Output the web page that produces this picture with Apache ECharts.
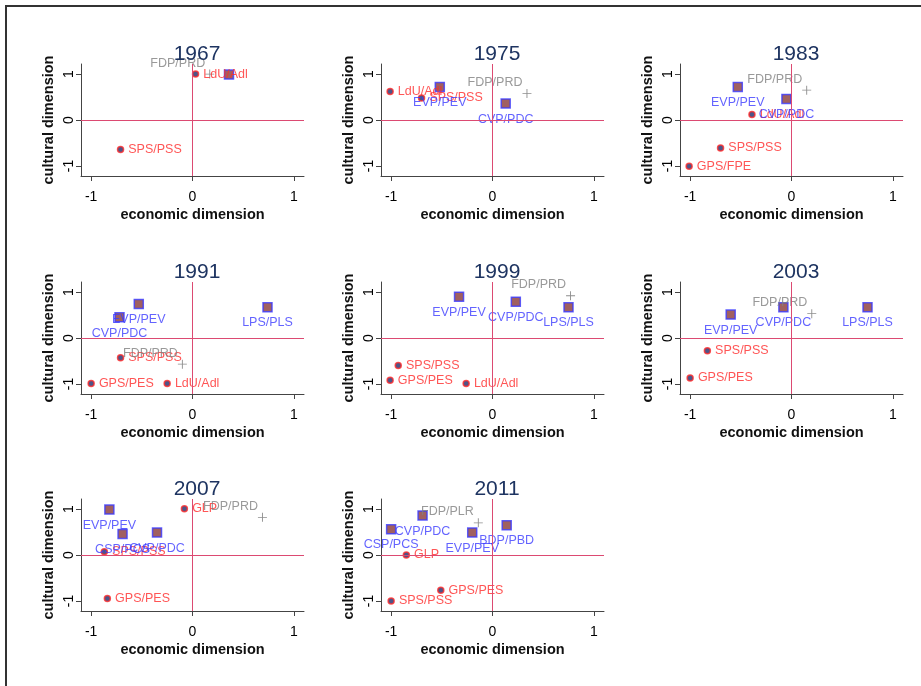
<!DOCTYPE html>
<html>
<head>
<meta charset="utf-8">
<script src="https://cdn.jsdelivr.net/npm/echarts@6/dist/echarts.min.js"></script>
<style>
  html, body { margin: 0; padding: 0; background: #fff; overflow: hidden; }
  #frame { position: absolute; left: 5px; top: 5px; right: -20px; bottom: -20px; border: 2px solid #333; }
  #chart { position: absolute; left: 0; top: 0; width: 921px; height: 686px; }
</style>
</head>
<body>
<div id="frame"></div>
<div id="chart"></div>
<script>
  // panel titles
  var years = ['1967', '1975', '1983', '1991', '1999', '2003', '2007', '2011'];
  var tickValues = [-1, 0, 1];

  // rows: [party, marker kind, economic dimension, cultural dimension]
  var d1967 = [
    ['', 'square', 0.36, 0.99],
    ['FDP/PRD', 'plus', 0.17, 1.0],
    ['LdU/Adl', 'dot', 0.03, 1.0],
    ['SPS/PSS', 'dot', -0.71, -0.64]
  ];
  var d1975 = [
    ['EVP/PEV', 'square', -0.52, 0.72],
    ['CVP/PDC', 'square', 0.13, 0.36],
    ['FDP/PRD', 'plus', 0.34, 0.58],
    ['LdU/Adl', 'dot', -1.01, 0.62],
    ['SPS/PSS', 'dot', -0.70, 0.48]
  ];
  var d1983 = [
    ['EVP/PEV', 'square', -0.53, 0.72],
    ['CVP/PDC', 'square', -0.05, 0.46],
    ['FDP/PRD', 'plus', 0.15, 0.65],
    ['LdU/Adl', 'dot', -0.39, 0.12],
    ['SPS/PSS', 'dot', -0.70, -0.61],
    ['GPS/FPE', 'dot', -1.01, -1.01]
  ];
  var d1991 = [
    ['EVP/PEV', 'square', -0.53, 0.74],
    ['CVP/PDC', 'square', -0.72, 0.45],
    ['LPS/PLS', 'square', 0.74, 0.67],
    ['FDP/PRD', 'plus', -0.10, -0.57],
    ['SPS/PSS', 'dot', -0.71, -0.43],
    ['GPS/PES', 'dot', -1.0, -0.99],
    ['LdU/Adl', 'dot', -0.25, -0.99]
  ];
  var d1999 = [
    ['EVP/PEV', 'square', -0.33, 0.90],
    ['CVP/PDC', 'square', 0.23, 0.79],
    ['LPS/PLS', 'square', 0.75, 0.67],
    ['FDP/PRD', 'plus', 0.77, 0.92],
    ['SPS/PSS', 'dot', -0.93, -0.60],
    ['GPS/PES', 'dot', -1.01, -0.92],
    ['LdU/Adl', 'dot', -0.26, -0.99]
  ];
  var d2003 = [
    ['EVP/PEV', 'square', -0.60, 0.51],
    ['CVP/PDC', 'square', -0.08, 0.67],
    ['LPS/PLS', 'square', 0.75, 0.67],
    ['FDP/PRD', 'plus', 0.20, 0.53],
    ['SPS/PSS', 'dot', -0.83, -0.28],
    ['GPS/PES', 'dot', -1.0, -0.87]
  ];
  var d2007 = [
    ['EVP/PEV', 'square', -0.82, 0.99],
    ['CSP/PCS', 'square', -0.69, 0.46],
    ['CVP/PDC', 'square', -0.35, 0.49],
    ['FDP/PRD', 'plus', 0.69, 0.82],
    ['GLP', 'dot', -0.08, 1.01],
    ['SPS/PSS', 'dot', -0.87, 0.07],
    ['GPS/PES', 'dot', -0.84, -0.95]
  ];
  var d2011 = [
    ['CVP/PDC', 'square', -0.69, 0.86],
    ['CSP/PCS', 'square', -1.0, 0.56],
    ['EVP/PEV', 'square', -0.20, 0.49],
    ['BDP/PBD', 'square', 0.14, 0.65],
    ['FDP/PLR', 'plus', -0.14, 0.70],
    ['GLP', 'dot', -0.85, 0.0],
    ['GPS/PES', 'dot', -0.51, -0.77],
    ['SPS/PSS', 'dot', -1.0, -1.0]
  ];
  var panels = [d1967, d1975, d1983, d1991, d1999, d2003, d2007, d2011];

  var font = 'Liberation Sans, Arial, sans-serif';
  var gridLefts = [81, 381, 680];
  var gridTops = [64, 282, 499];

  var kinds = {
    square: {
      symbol: 'rect', symbolSize: 9,
      itemStyle: { color: '#883838', borderColor: '#3a3aff', borderWidth: 1.5 },
      label: { position: 'bottom', distance: 4, color: '#3c3cff' }
    },
    dot: {
      symbol: 'circle', symbolSize: 6,
      itemStyle: { color: '#202a6a', borderColor: '#ff2a2a', borderWidth: 1.5 },
      label: { position: 'right', distance: 4, color: '#ff2a2a' }
    },
    plus: {
      symbol: 'path://M3.6,0h0.8v3.6h3.6v0.8h-3.6v3.6h-0.8v-3.6h-3.6v-0.8h3.6z', symbolSize: 9,
      itemStyle: { color: '#707070' },
      label: { position: [0, 0], align: 'right', verticalAlign: 'bottom', color: '#808080' }
    }
  };

  var grid = [], xAxis = [], yAxis = [], title = [], series = [];

  panels.forEach(function (rows, i) {
    var left = gridLefts[i % 3], top = gridTops[Math.floor(i / 3)];
    grid.push({ left: left, top: top, width: 223, height: 112 });
    title.push({
      text: years[i], left: left + 111, top: top - 25, textAlign: 'center',
      textStyle: { fontFamily: font, fontSize: 21, fontWeight: 'normal', color: '#1e3461' }
    });
    xAxis.push({
      gridIndex: i, type: 'value', min: -1.1, max: 1.1,
      name: 'economic dimension', nameLocation: 'middle', nameGap: 31,
      nameTextStyle: { fontFamily: font, fontSize: 14.5, fontWeight: 'bold', color: '#111' },
      axisLine: { onZero: false, lineStyle: { color: '#444' } },
      axisTick: { length: 5, customValues: tickValues, lineStyle: { color: '#444' } },
      axisLabel: { customValues: tickValues, margin: 14, fontFamily: font, fontSize: 14, color: '#000' },
      splitLine: { show: false }
    });
    yAxis.push({
      gridIndex: i, type: 'value', min: -1.22, max: 1.22,
      name: 'cultural dimension', nameLocation: 'middle', nameGap: 25,
      nameTextStyle: { fontFamily: font, fontSize: 14.5, fontWeight: 'bold', color: '#111' },
      axisLine: { onZero: false, lineStyle: { color: '#444' } },
      axisTick: { length: 5, customValues: tickValues, lineStyle: { color: '#444' } },
      axisLabel: { customValues: tickValues, rotate: 90, margin: 5, fontFamily: font, fontSize: 14, color: '#000' },
      splitLine: { show: false }
    });

    // reference lines at zero
    series.push({
      type: 'scatter', xAxisIndex: i, yAxisIndex: i, data: [], silent: true,
      markLine: {
        silent: true, symbol: 'none', label: { show: false },
        lineStyle: { color: '#dc4a72', type: 'solid', width: 1 },
        data: [{ xAxis: 0 }, { yAxis: 0 }]
      }
    });

    ['dot', 'square', 'plus'].forEach(function (k) {
      var cfg = kinds[k];
      var pts = rows.filter(function (r) { return r[1] === k; })
        .map(function (r) { return [r[2], r[3], r[0]]; });
      if (!pts.length) return;
      series.push({
        type: 'scatter', xAxisIndex: i, yAxisIndex: i,
        symbol: cfg.symbol, symbolSize: cfg.symbolSize,
        itemStyle: cfg.itemStyle,
        label: Object.assign({
          show: true, fontFamily: font, fontSize: 12.5,
          formatter: function (p) { return p.data[2]; }
        }, cfg.label),
        data: pts
      });
    });
  });

  var chart = echarts.init(document.getElementById('chart'), null, { renderer: 'canvas' });
  chart.setOption({
    animation: false,
    backgroundColor: 'transparent',
    title: title,
    grid: grid,
    xAxis: xAxis,
    yAxis: yAxis,
    series: series
  });
</script>
</body>
</html>
